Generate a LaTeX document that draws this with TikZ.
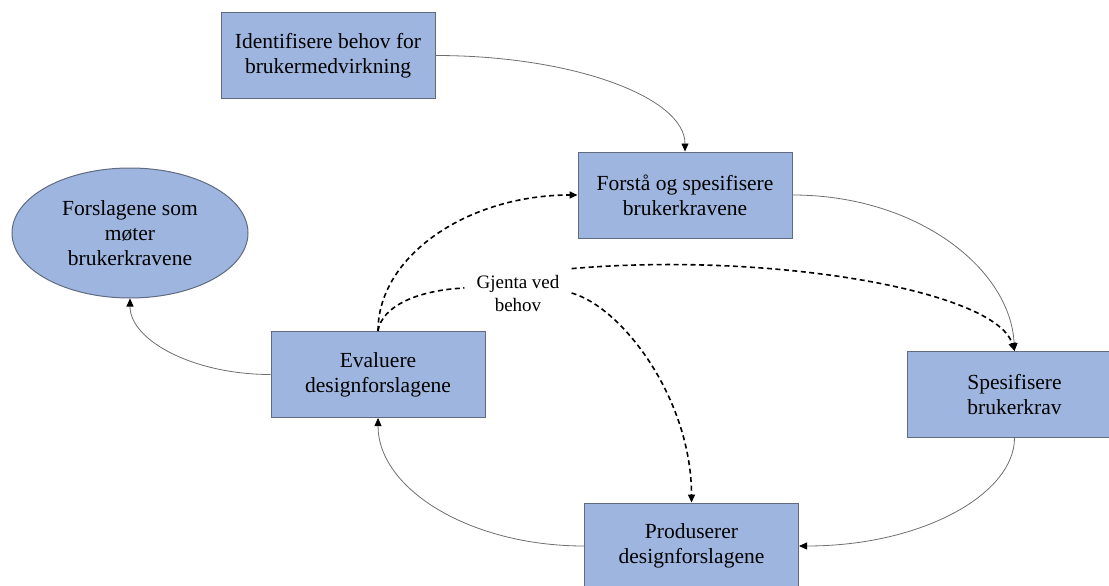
\documentclass[tikz,border=0pt]{standalone}
\usepackage{fontspec}
\setmainfont{Liberation Serif}
\usetikzlibrary{arrows.meta,shapes.geometric}
\definecolor{boxfill}{RGB}{158,182,223}
\definecolor{boxline}{RGB}{96,106,128}
\definecolor{linkgray}{RGB}{110,110,110}
\begin{document}
\begin{tikzpicture}[x=1pt,y=-1pt,
  stepbox/.style={rectangle,draw=boxline,fill=boxfill,line width=1pt,
    minimum width=214pt,minimum height=86pt,align=center,inner sep=0pt,
    font=\fontsize{21.5}{25}\selectfont},
  goalnode/.style={ellipse,draw=boxline,fill=boxfill,line width=1pt,
    minimum width=236pt,minimum height=130pt,align=center,inner sep=0pt,
    font=\fontsize{21.5}{25}\selectfont},
  flow/.style={draw=linkgray,line width=0.8pt,
    -{Triangle[length=8pt,width=7pt,color=black]}},
  repeatflow/.style={draw=black,line width=1.6pt,dash pattern=on 5pt off 3.5pt},
  repeattip/.style={-{Triangle[length=8pt,width=7pt,color=black]}},
  note/.style={align=center,inner xsep=12pt,inner ysep=4pt,
    font=\fontsize{19}{23}\selectfont}]
\useasboundingbox (0,0) rectangle (1109,586);
\clip (0,0) rectangle (1109,586);

% process steps
\node[stepbox] (ident) at (328,55.5) {Identifisere behov for\\brukermedvirkning};
\node[stepbox] (forsta) at (685,195) {Forstå og spesifisere\\brukerkravene};
\node[goalnode] (goal) at (130,233) {Forslagene som\\møter\\brukerkravene};
\node[stepbox] (eval) at (378,374.5) {Evaluere\\designforslagene};
\node[stepbox] (spes) at (1014.5,394.5) {Spesifisere\\brukerkrav};
\node[stepbox] (prod) at (691.5,546) {Produserer\\designforslagene};

% iteration note
\node[note] (again) at (518,293) {Gjenta ved\\behov};

% main cycle
\draw[flow] (ident.east) .. controls +(138,0) and +(0,-54) .. (forsta.north);
\draw[flow] (forsta.east) .. controls +(125,0) and +(-4,-82) .. (spes.north);
\draw[flow] (spes.south) .. controls +(0,55) and +(125,0) .. (prod.east);
\draw[flow] (prod.west) .. controls +(-114,0) and +(0,71) .. (eval.south);
\draw[flow] (eval.west) .. controls +(-77,0) and +(0,42) .. (goal.south);

% iterations
\draw[repeatflow,repeattip] (eval.north) .. controls +(0,-75) and +(-110,0) .. (forsta.west);
\draw[repeatflow] (eval.north) .. controls +(4,-26) and +(-44,2) .. ([yshift=5pt]again.west);
\draw[repeatflow,repeattip] ([yshift=2pt]again.north east) .. controls +(197,-17) and +(-19,-61) .. (spes.north);
\draw[repeatflow,repeattip] (again.east) .. controls +(52,15) and +(0,-102) .. (prod.north);
\end{tikzpicture}
\end{document}
